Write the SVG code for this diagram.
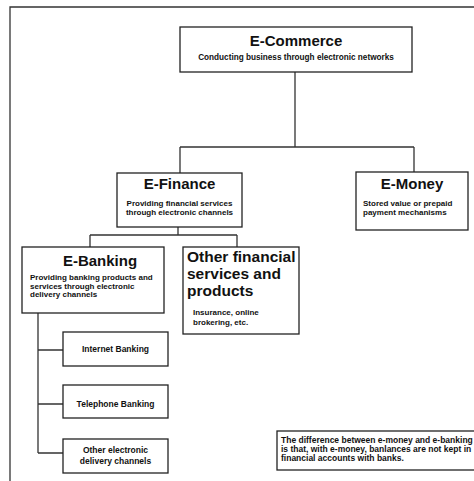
<svg xmlns="http://www.w3.org/2000/svg" width="474" height="481" viewBox="0 0 474 481">
<style>
.box{fill:#fff;stroke:#222;stroke-width:1.3}
.ln{fill:none;stroke:#333;stroke-width:1.3}
text{font-family:"Liberation Sans",Arial,sans-serif;font-weight:bold;fill:#111}
.t{font-size:15px}
.t2{font-size:15.5px}
.s{font-size:8px}
.m{text-anchor:middle}
</style>
<rect width="474" height="481" fill="#fff"/>
<path class="ln" d="M10,481 V7 H474"/>
<g id="connectors">
<path class="ln" d="M295,72 V147 M180,147 H414 M180,147 V173 M414,147 V172"/>
<path class="ln" d="M178,227 V235 M90,235 H237 M90,235 V247 M237,235 V247"/>
<path class="ln" d="M38,313 V453 M38,350 H63 M38,404 H63 M38,453 H63"/>
</g>
<g id="ecommerce">
<rect class="box" x="180" y="27" width="232" height="45"/>
<text class="t m" x="296" y="46">E-Commerce</text>
<text class="s m" x="296" y="60" style="font-size:8.2px">Conducting business through electronic networks</text>
</g>
<g id="efinance">
<rect class="box" x="117" y="173" width="125" height="54"/>
<text class="t m" x="179.5" y="189">E-Finance</text>
<text class="s m" x="179.5" y="206">Providing financial services</text>
<text class="s m" x="179.5" y="215">through electronic channels</text>
</g>
<g id="emoney">
<rect class="box" x="356" y="172" width="112" height="58"/>
<text class="t m" x="412" y="189">E-Money</text>
<text class="s" x="363" y="206">Stored value or prepaid</text>
<text class="s" x="363" y="215">payment mechanisms</text>
</g>
<g id="ebanking">
<rect class="box" x="22" y="247" width="142" height="66"/>
<text class="t m" x="100" y="266">E-Banking</text>
<text class="s" x="30" y="280">Providing banking products and</text>
<text class="s" x="30" y="288.5">services through electronic</text>
<text class="s" x="30" y="297">delivery channels</text>
</g>
<g id="otherfin">
<rect class="box" x="183" y="247" width="116" height="87"/>
<text class="t2" x="187" y="262">Other financial</text>
<text class="t2" x="187" y="279">services and</text>
<text class="t2" x="187" y="296">products</text>
<text class="s" x="193" y="315">Insurance, online</text>
<text class="s" x="193" y="325">brokering, etc.</text>
</g>
<g id="internet">
<rect class="box" x="63" y="332" width="105" height="34"/>
<text class="s m" x="115.5" y="352" style="font-size:8.5px">Internet Banking</text>
</g>
<g id="telephone">
<rect class="box" x="63" y="385" width="105" height="33"/>
<text class="s m" x="115.5" y="407" style="font-size:8.5px">Telephone Banking</text>
</g>
<g id="otherelec">
<rect class="box" x="63" y="439" width="105" height="34"/>
<text class="s m" x="115.5" y="453" style="font-size:8.5px">Other electronic</text>
<text class="s m" x="115.5" y="464" style="font-size:8.5px">delivery channels</text>
</g>
<g id="note">
<rect class="box" x="277" y="431" width="200" height="39"/>
<text class="s" x="281" y="443" style="font-size:8.5px">The difference between e-money and e-banking</text>
<text class="s" x="281" y="452" style="font-size:8.5px">is that, with e-money, banlances are not kept in</text>
<text class="s" x="281" y="461" style="font-size:8.5px">financial accounts with banks.</text>
</g>
</svg>
